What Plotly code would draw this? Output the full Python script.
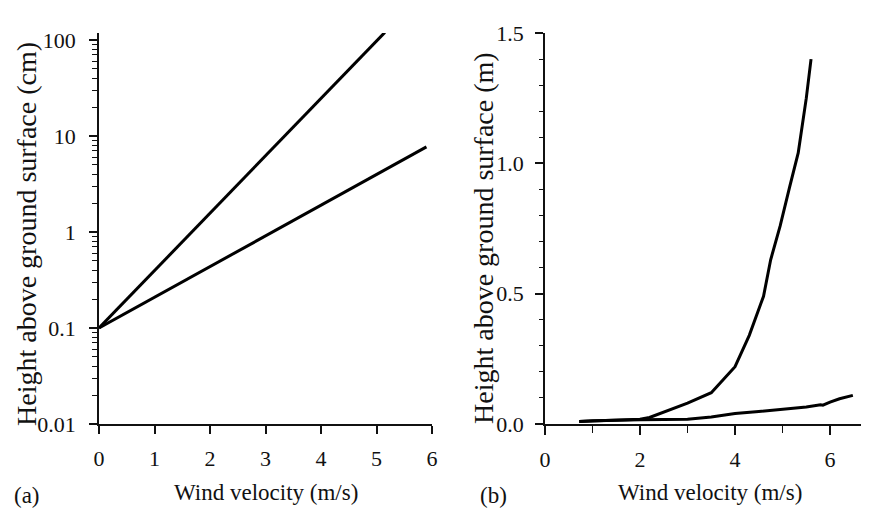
import plotly.graph_objects as go

# ---------------- data ----------------
# panel (a): log-scale heights (cm)
a_x_steep = [0, 5.15]
a_y_steep = [0.1, 120]
a_x_gentle = [0, 5.9]
a_y_gentle = [0.1, 7.7]
a_xticks = [0, 1, 2, 3, 4, 5, 6]
a_yticks = [0.01, 0.1, 1, 10, 100]
a_yticklabels = ["0.01", "0.1", "1", "10", "100"]

# panel (b): linear heights (m)
b_x_steep = [0.72, 1.0, 1.5, 2.0, 2.2, 2.5, 3.0, 3.5, 4.0, 4.3, 4.6, 4.75, 4.95, 5.15, 5.33, 5.5, 5.6]
b_y_steep = [0.010, 0.012, 0.015, 0.018, 0.025, 0.045, 0.08, 0.12, 0.22, 0.34, 0.49, 0.63, 0.76, 0.91, 1.04, 1.25, 1.40]
b_x_gentle = [0.72, 1.0, 2.0, 2.5, 3.0, 3.5, 4.0, 4.5, 5.0, 5.5, 5.8, 5.85, 6.0, 6.2, 6.48]
b_y_gentle = [0.010, 0.012, 0.016, 0.016, 0.018, 0.027, 0.040, 0.048, 0.056, 0.065, 0.074, 0.072, 0.084, 0.097, 0.110]
b_xticks = [0, 2, 4, 6]
b_yticks = [0.0, 0.5, 1.0, 1.5]
b_yticklabels = ["0.0", "0.5", "1.0", "1.5"]

x_title = "Wind velocity (m/s)"
a_y_title = "Height above ground surface (cm)"
b_y_title = "Height above ground surface (m)"

# ---------------- figure ----------------
OFF = 8                      # page body margin
W, H = 869 - OFF, 518 - OFF
FONT = "Liberation Serif"
INK = "#111111"
line_style = dict(color="black", width=3)

def fx(xp):
    return (xp - OFF) / W

def fy(yp):
    return 1 - (yp - OFF) / H

fig = go.Figure()
fig.add_trace(go.Scatter(x=a_x_steep, y=a_y_steep, mode="lines", line=line_style, xaxis="x", yaxis="y"))
fig.add_trace(go.Scatter(x=a_x_gentle, y=a_y_gentle, mode="lines", line=line_style, xaxis="x", yaxis="y"))
fig.add_trace(go.Scatter(x=b_x_steep, y=b_y_steep, mode="lines", line=line_style, xaxis="x2", yaxis="y2"))
fig.add_trace(go.Scatter(x=b_x_gentle, y=b_y_gentle, mode="lines", line=line_style, xaxis="x2", yaxis="y2"))

ydom = [fy(424), fy(33)]
tickfont = dict(family=FONT, size=22, color=INK)
common = dict(showline=True, linecolor=INK, linewidth=1.5, ticks="outside", tickcolor=INK,
              tickwidth=1.5, showgrid=False, zeroline=False, tickfont=tickfont,
              automargin=False, fixedrange=True)

fig.update_layout(
    width=W, height=H,
    margin=dict(l=0, r=0, t=0, b=0),
    paper_bgcolor="white", plot_bgcolor="white",
    showlegend=False,
    font=dict(family=FONT, color=INK),
    xaxis=dict(domain=[fx(99), fx(432)], range=[0, 6], anchor="y", tickmode="array",
               tickvals=a_xticks, ticklen=8, ticklabelstandoff=6, **common),
    yaxis=dict(domain=ydom, type="log", range=[-2, 2.073], anchor="x", tickmode="array",
               tickvals=a_yticks, ticktext=a_yticklabels, ticklen=8, ticklabelstandoff=9,
               minor=dict(ticks="outside", ticklen=5, dtick="D1", tickcolor=INK, tickwidth=1.2,
                          showgrid=False),
               **common),
    xaxis2=dict(domain=[fx(545), 1.0], range=[0, 6.82], anchor="y2", tickmode="array",
                tickvals=b_xticks, ticklen=9, ticklabelstandoff=6,
                minor=dict(ticks="outside", ticklen=7, dtick=1, tickcolor=INK, tickwidth=1.2,
                           showgrid=False),
                **common),
    yaxis2=dict(domain=ydom, range=[0, 1.5], anchor="x2", tickmode="array",
                tickvals=b_yticks, ticktext=b_yticklabels, ticklen=8, ticklabelstandoff=7,
                minor=dict(ticks="outside", ticklen=4, dtick=0.1, tickcolor=INK, tickwidth=1.2,
                           showgrid=False),
                **common),
)

ann = []
for (xp, yp), txt, ang, size in [
    ((265.5, 492), x_title, 0, 23),
    ((710, 492), x_title, 0, 23),
    ((26, 234), a_y_title, -90, 28),
    ((484, 238), b_y_title, -90, 28),
]:
    ann.append(dict(x=fx(xp), y=fy(yp), xref="paper", yref="paper", text=txt, showarrow=False,
                    textangle=ang, xanchor="center", yanchor="middle",
                    font=dict(family=FONT, size=size, color=INK)))
for (xp, yp), txt in [((12, 495), "(a)"), ((478, 495), "(b)")]:
    ann.append(dict(x=fx(xp), y=fy(yp), xref="paper", yref="paper", text=txt, showarrow=False,
                    xanchor="left", yanchor="middle",
                    font=dict(family=FONT, size=23, color=INK)))
fig.update_layout(annotations=ann)

fig.write_html("out.html")
